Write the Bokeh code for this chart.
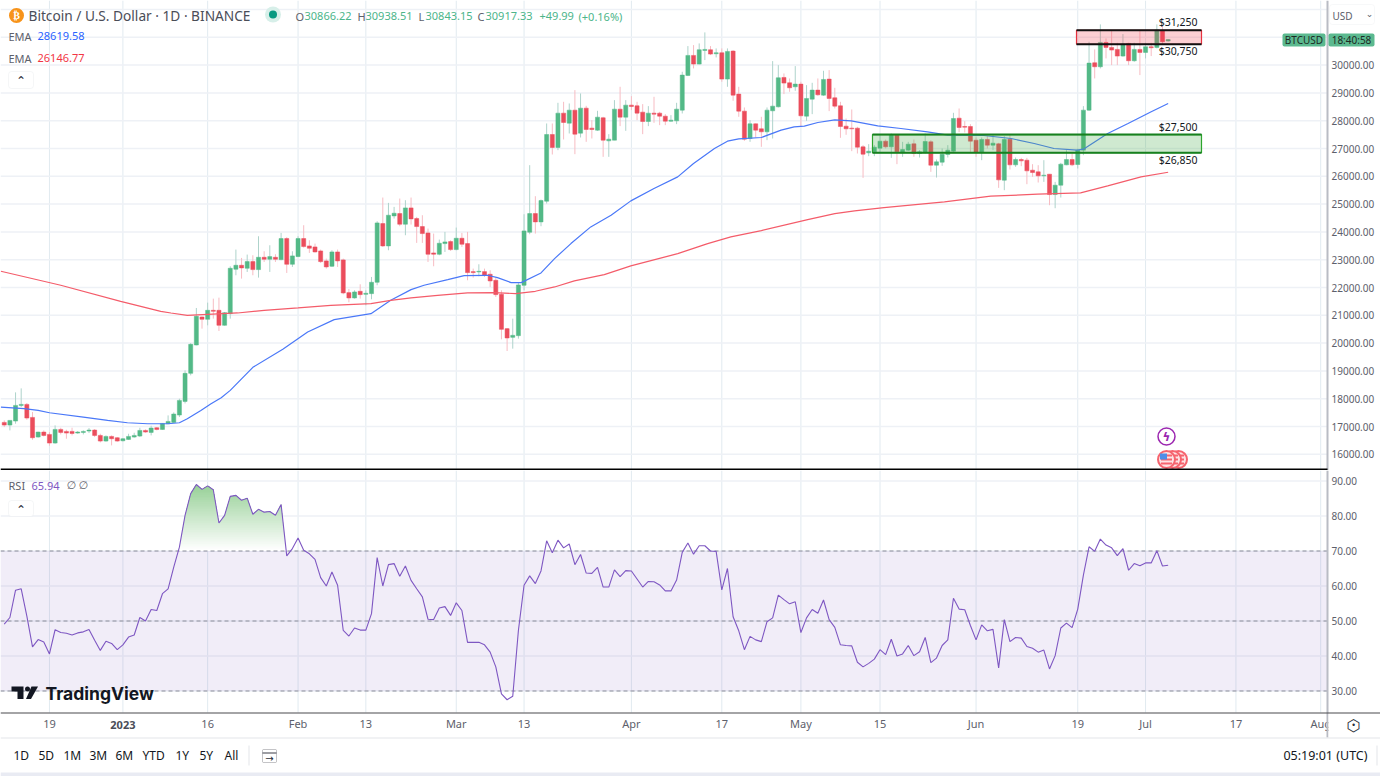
import numpy as np
from bokeh.embed import file_html
from bokeh.layouts import column
from bokeh.models import BoxAnnotation, FixedTicker, Label, NumeralTickFormatter, Range1d
from bokeh.plotting import figure
from bokeh.resources import INLINE

# Days are counted from 1 Jan 2023
days = list(range(-21, 186))
opens = [
    17148, 17052, 17196, 17760, 17796, 17328, 16620, 16800, 16716, 16404,
    16896, 16824, 16824, 16764, 16788, 16836, 16872, 16680, 16476, 16644,
    16596, 16488, 16536, 16620, 16656, 16860, 16788, 16956, 16896, 17100,
    17148, 17412, 17904, 18912, 19932, 20940, 20856, 21180, 21180, 20640,
    21060, 22656, 22800, 22692, 22932, 22644, 23088, 23016, 23088, 23004,
    23760, 22836, 23112, 23760, 23496, 23460, 23316, 22956, 22764, 23280,
    22992, 21816, 21624, 21864, 21756, 21780, 22188, 24300, 23496, 24576,
    24660, 24276, 24864, 24480, 24192, 23964, 23244, 23196, 23580, 23652,
    23364, 23772, 23580, 22572, 22560, 22572, 22476, 22260, 21756, 20520,
    20208, 20268, 22080, 23988, 24660, 24360, 25104, 27504, 27036, 28272,
    27912, 28380, 27552, 28452, 27732, 27660, 28104, 27276, 27300, 28416,
    28128, 28560, 28536, 28308, 27972, 28272, 28272, 28164, 27984, 27996,
    28380, 29628, 30348, 30036, 30528, 30552, 30408, 30444, 29496, 30504,
    28956, 28344, 27360, 27888, 27708, 27600, 28356, 28500, 29556, 29364,
    29220, 29316, 28164, 28776, 29100, 28920, 29496, 28824, 28536, 27804,
    27732, 27732, 27060, 26844, 26880, 27012, 27264, 27060, 27492, 26844,
    26940, 27168, 26820, 26856, 27240, 26400, 26508, 26784, 26904, 28092,
    27792, 27792, 27300, 26856, 27324, 27120, 27168, 25860, 27336, 26412,
    26604, 26580, 26220, 26160, 26016, 26076, 25344, 25680, 26412, 26604,
    26424, 26940, 28380, 30084, 29940, 30816, 30636, 30564, 30324, 30780,
    30156, 30564, 30456, 30660, 30636, 31236, 30866.22,
]
closes = [
    17052, 17220, 17760, 17796, 17304, 16596, 16800, 16680, 16404, 16896,
    16788, 16764, 16752, 16800, 16824, 16872, 16680, 16476, 16644, 16560,
    16476, 16560, 16644, 16680, 16860, 16800, 16944, 16896, 17112, 17184,
    17448, 17940, 18912, 19956, 20964, 20856, 21180, 21144, 20640, 21096,
    22692, 22800, 22704, 22932, 22644, 23088, 23016, 23112, 23016, 23760,
    22836, 23136, 23760, 23472, 23412, 23280, 22932, 22740, 23280, 22956,
    21804, 21624, 21840, 21744, 21792, 22188, 24324, 23496, 24600, 24672,
    24276, 24864, 24468, 24192, 23940, 23196, 23196, 23592, 23640, 23364,
    23772, 23556, 22536, 22536, 22584, 22440, 22236, 21744, 20496, 20184,
    20280, 22092, 24036, 24660, 24360, 25128, 27504, 27036, 28272, 27936,
    28380, 27516, 28452, 27684, 27684, 28128, 27300, 27336, 28416, 28128,
    28560, 28512, 28272, 27972, 28272, 28236, 28164, 27984, 28020, 28416,
    29640, 30348, 30036, 30552, 30564, 30396, 30444, 29496, 30492, 28920,
    28344, 27336, 27888, 27660, 27600, 28380, 28524, 29544, 29352, 29184,
    29316, 28176, 28800, 29100, 28932, 29484, 28800, 28524, 27792, 27708,
    27708, 27048, 26796, 26904, 27048, 27264, 27060, 27504, 26880, 26964,
    27156, 26820, 26880, 27252, 26400, 26520, 26796, 26940, 28080, 27756,
    27768, 27264, 26856, 27324, 27120, 27192, 25872, 27324, 26412, 26604,
    26556, 26196, 26136, 26016, 26040, 25344, 25680, 26436, 26604, 26412,
    26940, 28380, 30072, 29940, 30816, 30636, 30540, 30324, 30756, 30156,
    30564, 30456, 30660, 30624, 31260, 30840, 30917.33,
]
highs = [
    17220, 17220, 18228, 18372, 17844, 17520, 16812, 16860, 16800, 17040,
    16956, 16884, 16956, 16836, 16860, 16944, 16908, 16740, 16680, 16680,
    16620, 16584, 16740, 16776, 16956, 16896, 17028, 16980, 17124, 17400,
    17508, 18000, 19020, 20000, 21264, 20964, 21456, 21600, 21636, 21120,
    22764, 23364, 23064, 23184, 23160, 23844, 23304, 23520, 23196, 23964,
    23808, 23304, 23844, 24240, 23700, 23580, 23364, 23040, 23340, 23364,
    23040, 21948, 21900, 22116, 21900, 22380, 24384, 25236, 25044, 24900,
    25200, 25140, 25236, 24540, 24600, 24120, 23940, 23724, 24000, 23700,
    24156, 23964, 24000, 22680, 22836, 22680, 22620, 22356, 21900, 20544,
    20880, 22164, 24636, 26400, 25284, 25164, 27900, 27900, 28644, 28680,
    28620, 29100, 28980, 28536, 28020, 28356, 28140, 27516, 28740, 29220,
    28740, 28884, 28680, 28596, 28524, 28860, 28320, 28236, 28200, 28644,
    29760, 30684, 30720, 30780, 31176, 30684, 30600, 30600, 30600, 30540,
    29220, 28476, 28020, 27900, 28140, 28476, 30144, 30000, 29700, 29520,
    29964, 29400, 29280, 29364, 29520, 29796, 29820, 29184, 28680, 28080,
    28404, 27780, 27120, 27156, 27120, 27480, 27324, 27540, 27516, 27240,
    27240, 27324, 26940, 27540, 27300, 26604, 27000, 27120, 28284, 28440,
    27984, 27876, 27396, 27396, 27444, 27480, 27204, 27444, 27480, 26676,
    26664, 26664, 26436, 26400, 26580, 26076, 25800, 26484, 26940, 26820,
    27000, 28524, 30840, 30564, 31464, 30960, 31260, 30804, 31116, 30804,
    30804, 31260, 30804, 30804, 31464, 31416, 30938.51,
]
lows = [
    16980, 16860, 17100, 17700, 17244, 16524, 16600, 16640, 16308, 16380,
    16716, 16560, 16680, 16740, 16716, 16764, 16620, 16428, 16452, 16320,
    16452, 16464, 16524, 16596, 16620, 16776, 16680, 16860, 16884, 17088,
    17124, 17340, 17830, 18840, 19920, 20520, 20640, 20880, 20436, 20628,
    20880, 22440, 22320, 22560, 22440, 22356, 22920, 22560, 22920, 22980,
    22524, 22740, 23100, 23436, 23244, 23256, 22884, 22680, 22740, 22740,
    21756, 21468, 21600, 21600, 21360, 21576, 22080, 23460, 23340, 24480,
    24204, 23880, 24264, 23604, 23604, 22920, 22764, 23160, 23280, 23316,
    23340, 23460, 22260, 22356, 22404, 22380, 22020, 21660, 20136, 19716,
    19800, 20160, 21900, 23916, 23940, 24204, 25020, 26784, 26940, 27324,
    27540, 26796, 27396, 27240, 27360, 27636, 26700, 26700, 27300, 27804,
    27636, 28380, 28020, 27516, 27804, 27924, 27840, 27840, 27960, 27876,
    28260, 29604, 29880, 30024, 30180, 30360, 30276, 29400, 29220, 28716,
    28140, 27276, 27240, 27396, 27060, 27300, 27360, 28476, 28956, 29040,
    29076, 27780, 27996, 28236, 28896, 28896, 28344, 28440, 27384, 27492,
    26904, 26820, 25944, 26724, 26724, 26844, 27000, 26664, 26436, 26700,
    26916, 26700, 26676, 26820, 26160, 25956, 26376, 26676, 26880, 27588,
    27576, 26880, 26700, 26580, 27000, 26940, 25584, 25500, 26244, 26340,
    26364, 25716, 25980, 25776, 25800, 24960, 24852, 25236, 26400, 26364,
    26280, 26760, 28356, 29520, 29880, 30240, 30000, 30000, 30300, 30000,
    30120, 29640, 30240, 30324, 30600, 30756, 30843.15,
]
rsi = [
    49.1, 51.0, 58.8, 59.2, 51.4, 42.6, 44.7, 44.0, 40.6, 47.5,
    46.7, 46.5, 46.0, 46.6, 46.9, 47.6, 44.5, 41.6, 44.2, 43.6,
    41.8, 43.2, 45.4, 46.0, 51.0, 50.0, 53.3, 53.0, 57.8, 59.2,
    65.4, 71.1, 80.2, 86.4, 89.0, 87.6, 88.6, 87.5, 78.0, 80.2,
    85.6, 85.9, 84.5, 85.1, 80.5, 81.9, 81.1, 81.3, 80.2, 83.3,
    68.6, 70.7, 73.7, 70.2, 69.2, 67.6, 62.4, 60.0, 64.0, 60.2,
    47.3, 45.7, 48.0, 47.4, 47.4, 52.1, 68.1, 60.0, 66.1, 66.4,
    62.8, 65.7, 61.6, 59.2, 56.9, 50.5, 50.4, 53.7, 54.1, 51.6,
    55.2, 53.0, 43.9, 43.9, 43.9, 43.2, 41.1, 36.9, 29.2, 27.5,
    28.5, 47.3, 60.2, 62.9, 60.7, 64.3, 72.9, 69.5, 73.1, 70.9,
    72.0, 66.1, 69.0, 63.7, 63.6, 65.3, 59.7, 59.7, 64.6, 62.7,
    64.4, 64.3, 62.0, 59.7, 61.3, 61.2, 60.3, 58.6, 58.6, 61.7,
    69.6, 72.3, 69.1, 71.5, 71.5, 70.0, 69.9, 58.9, 65.0, 51.2,
    47.2, 41.8, 45.6, 44.6, 44.1, 49.8, 50.9, 57.4, 56.1, 54.9,
    55.5, 46.7, 50.9, 53.3, 52.2, 56.0, 50.4, 48.2, 43.2, 43.0,
    42.9, 38.2, 36.9, 37.9, 39.1, 41.8, 40.4, 44.8, 40.0, 40.6,
    43.0, 40.1, 41.2, 45.3, 38.1, 39.4, 43.0, 44.6, 56.5, 53.4,
    53.2, 48.7, 44.6, 48.9, 47.2, 47.6, 36.6, 50.4, 44.1, 45.3,
    45.1, 42.7, 42.2, 41.1, 41.7, 36.3, 40.1, 48.0, 49.4, 48.1,
    53.4, 63.1, 71.2, 69.9, 73.4, 71.7, 70.9, 68.7, 70.7, 64.5,
    66.4, 65.8, 66.6, 66.6, 70.1, 65.7, 65.94,
]
ema_fast_days = [-21.6, -17.5, -15, -13, -7, -2.7, 0.8, 4.4, 8, 10, 11.4, 13.8, 15.6, 17.4, 19, 23, 28.3, 32.7,
                 37.4, 43.9, 47.4, 51, 53.3, 57.5, 60.4, 64.5, 66.3, 68.7, 70.5, 74, 76.4, 79.3, 82.8, 86.4,
                 89.9, 94, 98.2, 101, 104.7, 107, 109, 113, 116.5, 118.8, 120.6, 123, 126, 128.9, 133.6,
                 137.7, 142.4, 146, 152.4, 157.2, 161.3, 164.8, 168.9, 170, 174.3, 177.9, 182, 185]
ema_fast = [17700, 17640, 17580, 17496, 17340, 17220, 17136, 17100, 17100, 17136, 17280, 17580, 17820, 18036,
            18300, 19128, 19776, 20400, 20844, 21060, 21540, 21924, 22080, 22284, 22428, 22440, 22356, 22176,
            22176, 22524, 23040, 23580, 24180, 24600, 25116, 25560, 25980, 26460, 27000, 27264, 27348, 27396,
            27660, 27780, 27804, 27936, 28032, 27996, 27816, 27720, 27600, 27480, 27468, 27360, 27180, 27000,
            26940, 26976, 27540, 27900, 28320, 28620]
ema_slow_days = [-21.6, -11, -0.4, 6.7, 8.5, 11.4, 15, 20.3, 25, 31, 36.8, 43.9, 47.4, 51, 55.7, 61, 65.7, 69.5,
                 73, 76.4, 79.9, 85.2, 89.9, 98.2, 103.5, 107.6, 113, 121.2, 126, 129.5, 134.7, 145.4, 153.6,
                 161.9, 169.5, 174.3, 180.2, 185]
ema_slow = [22584, 22080, 21504, 21144, 21084, 21000, 21036, 21084, 21180, 21264, 21360, 21420, 21540, 21624,
            21720, 21804, 21816, 21780, 21864, 22020, 22236, 22464, 22776, 23220, 23580, 23820, 24048, 24444,
            24660, 24756, 24876, 25080, 25284, 25356, 25404, 25656, 25980, 26147]
time_ticks = [-13, 0, 15, 31, 43, 59, 71, 90, 106, 120, 134, 151, 169, 181, 197, 212]
time_labels = ["19", "", "16", "Feb", "13", "Mar", "13", "Apr", "17", "May", "15", "Jun", "19", "Jul", "17", "Aug"]
price_ticks = list(range(16000, 31000, 1000))
price_grid = list(range(16000, 33000, 1000))
rsi_ticks = [30, 40, 50, 60, 70, 80, 90]
zone_high = (30750, 31250)
zone_low = (26850, 27500)
range_buttons = ["1D", "5D", "1M", "3M", "6M", "YTD", "1Y", "5Y", "All"]
range_button_x = [13, 38, 63, 89, 115, 142, 175, 199, 224]

FONT = "Noto Sans"
GRAY = "#5d606b"
DARK = "#2a2e39"
GREEN = "#53b987"
RED = "#eb4d5c"
GREEN_W = "#aed3cb"
RED_W = "#f7bcc3"
BLUE = "#4a78f8"
PINK = "#f45c6a"
PURPLE = "#7e57c2"
V_GRID = "#e1eaf0"
H_GRID = "#eef1f6"


# reference pixel -> data, for the page furniture only
def X(px):
    return (px - 122.4) / 5.65


def Y(py):
    return 30000 - (py - 64.6) * 35.97


def R(py):
    return 70 - (py - 550.5) / 3.5


x_range = Range1d(X(0), X(1380))
common = dict(width=1380, x_range=x_range, output_backend="svg", toolbar_location=None, y_axis_location="right",
              min_border_left=0, min_border_top=0, min_border_bottom=0, min_border_right=0,
              outline_line_color=None, tools="")
p1 = figure(height=470, y_range=Range1d(Y(470), Y(0)), **common)
p2 = figure(height=306, y_range=Range1d(R(776), R(470)), **common)
p1.xaxis.visible = False

for p, ticks, grid, top, bottom in ((p1, price_ticks, price_grid, Y(0), Y(470)),
                                    (p2, rsi_ticks, rsi_ticks, R(470), R(712))):
    p.grid.visible = False
    ax = p.yaxis[0]
    ax.fixed_location = X(1328)
    ax.ticker = FixedTicker(ticks=ticks)
    ax.formatter = NumeralTickFormatter(format="0.00")
    ax.axis_line_color = None
    ax.major_tick_line_color = None
    ax.minor_tick_line_color = None
    ax.major_tick_out = 0
    ax.major_tick_in = 0
    ax.major_label_standoff = 3
    ax.major_label_text_font = FONT
    ax.major_label_text_font_size = "10px"
    ax.major_label_text_color = GRAY
    p.segment(time_ticks, [bottom] * len(time_ticks), time_ticks, [top] * len(time_ticks),
              line_color=V_GRID, line_width=1, level="underlay")
    p.segment([X(0)] * len(grid), grid, [X(1327)] * len(grid), grid,
              line_color=H_GRID, line_width=1.5, level="underlay")

xa = p2.xaxis[0]
xa.fixed_location = R(712)
xa.ticker = FixedTicker(ticks=time_ticks)
xa.major_label_overrides = {t: s for t, s in zip(time_ticks, time_labels)}
xa.axis_line_color = None
xa.major_tick_line_color = None
xa.minor_tick_line_color = None
xa.major_tick_out = 0
xa.major_tick_in = 0
xa.major_label_standoff = 3
xa.major_label_text_font = FONT
xa.major_label_text_font_size = "11px"
xa.major_label_text_color = GRAY


def lab(p, oy, x, y, text, size=11, color=GRAY, align="left", font=FONT, style="normal"):
    p.add_layout(Label(x=x, y=y - oy, x_units="canvas", y_units="canvas", text=text, text_font=font,
                       text_font_size=f"{size}px", text_color=color, text_align=align,
                       text_baseline="middle", text_font_style=style))


def box(p, oy, x0, x1, y0, y1, fill="#ffffff", alpha=1.0, line=None, lw=1, radius=0):
    p.add_layout(BoxAnnotation(left=x0, right=x1, top=y0 - oy, bottom=y1 - oy,
                               left_units="canvas", right_units="canvas", top_units="canvas", bottom_units="canvas",
                               fill_color=fill, fill_alpha=alpha, line_color=line, line_width=lw,
                               border_radius=radius))


# candles
d = np.array(days, dtype=float)
o, c, h, l = map(lambda v: np.array(v, dtype=float), (opens, closes, highs, lows))
up = c >= o
p1.segment(d[up], h[up], d[up], l[up], line_color=GREEN_W, line_width=1)
p1.segment(d[~up], h[~up], d[~up], l[~up], line_color=RED_W, line_width=1)
p1.vbar(d[up], 0.72, o[up], c[up], fill_color=GREEN, line_color=GREEN, line_width=0.5)
p1.vbar(d[~up], 0.72, o[~up], c[~up], fill_color=RED, line_color=RED, line_width=0.5)

# EMAs
p1.line(ema_fast_days, ema_fast, line_color=BLUE, line_width=1.2)
p1.line(ema_slow_days, ema_slow, line_color=PINK, line_width=1.2)

# zones
zx0_h, zx0_l, zx1 = X(1076), X(872), X(1201)
p1.quad(left=[zx0_h], right=[zx1], bottom=[zone_high[0]], top=[zone_high[1]], fill_color="#f23645", fill_alpha=0.24,
        line_color="#e8323f", line_width=1.2)
p1.quad(left=[zx0_l], right=[zx1], bottom=[zone_low[0]], top=[zone_low[1]], fill_color="#4caf50", fill_alpha=0.27,
        line_color="#2da52d", line_width=1.2)
p1.segment([zx0_h, zx0_h], zone_high, [zx1, zx1], zone_high, line_color="#111111", line_width=2)
p1.segment([zx0_l, zx0_l], zone_low, [zx1, zx1], zone_low, line_color="#17801f", line_width=2)

# event icons
p1.scatter([X(1166)], [Y(436)], size=17, fill_color="#ffffff", line_color="#9c27b0", line_width=1.5)
for cx in (1178, 1172, 1166):
    p1.scatter([X(cx)], [Y(459)], size=17, fill_color="#fde3e4", line_color="#f6646e", line_width=2)
    for sy in (455, 459, 463):
        p1.rect([X(cx)], [Y(sy)], width=11, height=2, width_units="screen", height_units="screen",
                fill_color="#f6646e", line_color=None)
p1.rect([X(1163)], [Y(456)], width=7, height=6, width_units="screen", height_units="screen",
        fill_color="#4f8ee8", line_color=None)

# brand dot and status dot
p1.scatter([X(16)], [Y(15)], size=15, fill_color="#f7931a", line_color=None)
p1.scatter([X(272.5)], [Y(14)], size=16, fill_color="#d7efe9", line_color=None)
p1.scatter([X(272.5)], [Y(14)], size=8, fill_color="#089981", line_color=None)

# RSI panel
p2.varea([X(0), X(1327)], [30, 30], [70, 70], fill_color=PURPLE, fill_alpha=0.11)
xf = np.arange(9, 29.01, 0.05)
yf = np.interp(xf, d, np.array(rsi))
for i, level in enumerate(np.arange(70, 90, 0.5)):
    t = i / 40
    col = "#%02x%02x%02x" % (int(255 - 111 * t), int(255 - 50 * t), int(255 - 111 * t))
    p2.varea(xf, np.full_like(xf, level), np.maximum(yf, level), fill_color=col)
for lv in (70, 50, 30):
    p2.line([X(0), X(1327)], [lv, lv], line_color="#8a8d99", line_width=1, line_dash="4 3")
p2.line(d, rsi, line_color=PURPLE, line_width=1.1)

# TradingView mark
p2.patches([[X(11), X(23), X(23), X(17), X(17), X(11)],
            [X(31), X(37.5), X(30.5), X(25.5)]],
           [[R(686), R(686), R(698.5), R(698.5), R(691), R(691)],
            [R(686), R(686), R(698.5), R(698.5)]],
           fill_color="#131722", line_color=None)
p2.scatter([X(27)], [R(688.5)], size=5, fill_color="#131722", line_color=None)

# header texts
lab(p1, 0, 16, 15, "₿", 10, "#ffffff", "center", "DejaVu Sans", "bold")
lab(p1, 0, 28, 14.5, "Bitcoin / U.S. Dollar · 1D · BINANCE", 13.7, "#4a4d57")
OHLC_GREEN = "#4cb58a"
for x, t, col in ((295, "O", GRAY), (304, "30866.22", OHLC_GREEN), (357, "H", GRAY), (365, "30938.51", OHLC_GREEN),
                  (418, "L", GRAY), (425, "30843.15", OHLC_GREEN), (477, "C", GRAY), (485, "30917.33", OHLC_GREEN),
                  (539, "+49.99", OHLC_GREEN), (578, "(+0.16%)", OHLC_GREEN)):
    lab(p1, 0, x, 15.5, t, 11, col)
lab(p1, 0, 8, 35.5, "EMA", 11)
lab(p1, 0, 37, 35.5, "28619.58", 11, "#2962ff")
lab(p1, 0, 8, 57.5, "EMA", 11)
lab(p1, 0, 37, 57.5, "26146.77", 11, "#f23645")
box(p1, 0, 8, 33, 71, 88, "#ffffff", 1, "#dfe1e6", 1, 3)
lab(p1, 0, 20.5, 80, "⌃", 12, DARK, "center", "DejaVu Sans")

# zone labels
for y, t in ((21.5, "$31,250"), (50.5, "$30,750"), (126.5, "$27,500"), (159.5, "$26,850")):
    lab(p1, 0, 1197, y, t, 10.5, "#131722", "right")

# right scale furniture
box(p1, 0, 1326, 1328, 0, 470, "#b9bcc4")
box(p1, 0, 1329, 1374, 4, 24, "#ffffff", 1, "#e6e8ec", 1, 3)
lab(p1, 0, 1332, 15, "USD", 10, GRAY)
lab(p1, 0, 1369, 13, "⌄", 9, GRAY, "center", "DejaVu Sans")
box(p1, 0, 1282, 1325, 33, 46, "#5bb98f", 1, None, 0, 2)
box(p1, 0, 1328, 1374, 33, 46, "#5bb98f", 1, None, 0, 2)
lab(p1, 0, 1303.5, 39.5, "BTCUSD", 10, "#1d2a24", "center")
lab(p1, 0, 1351, 39.5, "18:40:58", 10, "#1d2a24", "center")
lab(p1, 0, 1166, 436, "ϟ", 12, "#9c27b0", "center", "DejaVu Sans", "bold")
box(p1, 0, 0, 1327, 468, 470, "#000000")

# RSI panel texts
lab(p2, 470, 8, 485, "RSI", 11)
lab(p2, 470, 31, 485, "65.94", 11, PURPLE)
lab(p2, 470, 66, 485, "∅", 11, GRAY, "left", "DejaVu Sans")
lab(p2, 470, 78, 485, "∅", 11, GRAY, "left", "DejaVu Sans")
box(p2, 470, 8, 33, 500, 516, "#ffffff", 1, "#dfe1e6", 1, 3)
lab(p2, 470, 20.5, 509, "⌃", 12, DARK, "center", "DejaVu Sans")
lab(p2, 470, 45, 693, "TradingView", 17.5, "#131722", "left", "Inter", "bold")

# time scale and bottom bar
box(p2, 470, 1326, 1328, 470, 737, "#b9bcc4")
box(p2, 470, 1328, 1380, 713, 737, "#ffffff")
box(p2, 470, 0, 1380, 712, 713, "#4a4a4f")
lab(p2, 470, 122.4, 724, "2023", 11, "#4a4d57", "center", FONT, "bold")
lab(p2, 470, 1353, 725, "⬡", 16, DARK, "center", "DejaVu Sans")
lab(p2, 470, 1353, 725, "•", 8, DARK, "center", "DejaVu Sans")
box(p2, 470, 0, 1380, 737, 738, "#e3e5ea")
for x, t in zip(range_button_x, range_buttons):
    lab(p2, 470, x, 755, t, 12, "#131722")
box(p2, 470, 248, 249, 745, 765, "#e3e5ea")
box(p2, 470, 262, 276, 749, 762, None, 0, "#3a3d46", 1, 1)
box(p2, 470, 262, 276, 752, 753, "#3a3d46")
lab(p2, 470, 269, 758, "→", 10, DARK, "center", "DejaVu Sans")
lab(p2, 470, 1367, 755, "05:19:01 (UTC)", 12.5, "#131722", "right")
box(p2, 470, 1376, 1377, 745, 765, "#e3e5ea")
box(p2, 470, 0, 1380, 772, 776, "#e9ebf3")

open("out.html", "w").write(file_html(column(p1, p2), INLINE))
